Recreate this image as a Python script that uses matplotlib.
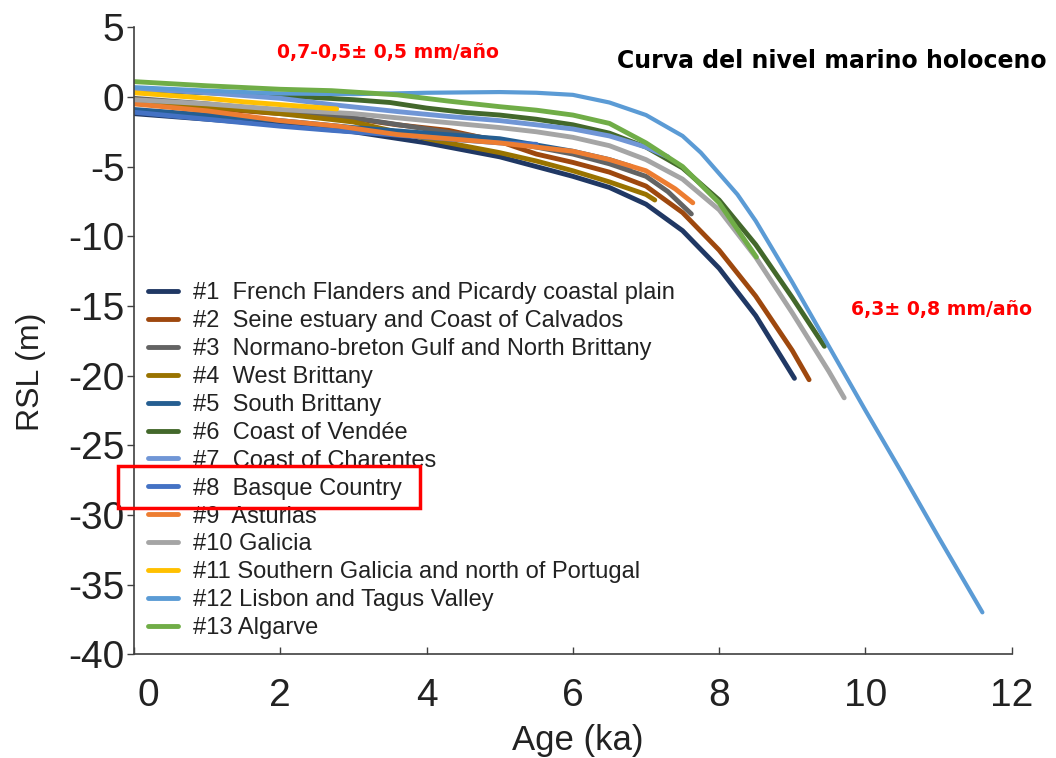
import matplotlib
matplotlib.use("Agg")
import matplotlib.pyplot as plt
from matplotlib.patches import Rectangle
import matplotlib.transforms as mtransforms

plt.rcParams['font.family'] = ['Liberation Sans', 'DejaVu Sans']
plt.rcParams['axes.unicode_minus'] = False

# ---- data (age in ka, RSL in m) ----
labels = [
    "#1  French Flanders and Picardy coastal plain",
    "#2  Seine estuary and Coast of Calvados",
    "#3  Normano-breton Gulf and North Brittany",
    "#4  West Brittany",
    "#5  South Brittany",
    "#6  Coast of Vendée",
    "#7  Coast of Charentes",
    "#8  Basque Country",
    "#9  Asturias",
    "#10 Galicia",
    "#11 Southern Galicia and north of Portugal",
    "#12 Lisbon and Tagus Valley",
    "#13 Algarve",
]
colors = ["#203864", "#9e480e", "#636363", "#997300", "#255e91", "#43682b",
          "#7096d6", "#4472c4", "#ed7d31", "#a5a5a5", "#ffc000", "#5b9bd5", "#70ad47"]

age1 = [0, 1, 2, 3, 4, 4.5, 5, 5.5, 6, 6.5, 7, 7.5, 8, 8.5, 9.03]
rsl1 = [-1.2, -1.6, -2.0, -2.5, -3.3, -3.8, -4.3, -5.0, -5.7, -6.5, -7.7, -9.6, -12.3, -15.7, -20.2]

age2 = [0, 1, 2, 2.8, 3.6, 4.3, 5, 5.5, 6, 6.5, 7, 7.5, 8, 8.5, 9, 9.23]
rsl2 = [-0.3, -0.8, -1.2, -1.4, -2.0, -2.4, -3.2, -4.1, -4.7, -5.4, -6.4, -8.3, -11.0, -14.3, -18.2, -20.3]

age3 = [0, 1, 2, 3, 4, 5, 5.5, 6, 6.5, 7, 7.3, 7.62]
rsl3 = [-0.1, -0.5, -1.0, -1.5, -2.3, -3.1, -3.6, -4.1, -4.8, -5.7, -6.8, -8.4]

age4 = [0, 1, 2, 3, 3.5, 4, 4.5, 5, 5.5, 6, 6.5, 7, 7.12]
rsl4 = [-0.2, -0.7, -1.2, -1.8, -2.4, -3.0, -3.5, -4.0, -4.6, -5.3, -6.1, -7.0, -7.4]

age5 = [0, 1, 2, 3, 4, 5, 5.5, 6, 6.5, 6.8]
rsl5 = [-0.9, -1.3, -1.7, -2.2, -2.6, -3.0, -3.45, -3.9, -4.5, -5.0]

age6 = [0, 1, 2, 3, 3.5, 4, 4.5, 5, 5.5, 6, 6.5, 7, 7.5, 8, 8.5, 9, 9.44]
rsl6 = [0.5, 0.3, 0.1, -0.2, -0.4, -0.8, -1.1, -1.3, -1.6, -2.0, -2.6, -3.6, -5.1, -7.4, -10.6, -14.4, -17.9]

age7 = [0, 1, 2, 2.7, 3.6, 4.3, 5, 5.5, 6, 6.5, 7, 7.3]
rsl7 = [0.6, 0.3, -0.1, -0.55, -1.05, -1.4, -1.7, -2.0, -2.3, -2.8, -3.6, -4.3]

age8 = [0, 1, 2, 2.7, 3.5, 4, 4.5, 5, 5.5]
rsl8 = [-1.1, -1.6, -2.1, -2.4, -2.7, -2.9, -3.1, -3.3, -3.4]

age9 = [0, 1, 2, 2.8, 3.6, 4.3, 5, 5.5, 6, 6.5, 7, 7.4, 7.64]
rsl9 = [-0.5, -1.0, -1.7, -2.1, -2.7, -3.0, -3.3, -3.6, -3.9, -4.5, -5.3, -6.6, -7.6]

age10 = [0, 1, 2, 3, 4, 5, 5.5, 6, 6.5, 7, 7.5, 8, 8.5, 9, 9.5, 9.71]
rsl10 = [-0.2, -0.5, -0.9, -1.2, -1.7, -2.2, -2.5, -2.9, -3.5, -4.5, -5.9, -8.1, -11.5, -15.5, -19.7, -21.6]

age11 = [0, 0.5, 1, 1.5, 2, 2.5, 2.77]
rsl11 = [0.3, 0.1, -0.1, -0.35, -0.55, -0.75, -0.86]

age12 = [0, 1, 2, 3, 4, 5, 5.5, 6, 6.5, 7, 7.5, 7.75, 8, 8.25, 8.5, 9, 9.5, 10, 10.5, 11, 11.6]
rsl12 = [0.7, 0.45, 0.25, 0.2, 0.3, 0.35, 0.3, 0.15, -0.4, -1.3, -2.8, -4.0, -5.5, -7.0, -8.9, -13.3, -17.9, -22.5, -27.0, -31.6, -37.0]

age13 = [0, 1, 2, 2.7, 3.6, 4.3, 5, 5.5, 6, 6.5, 7, 7.5, 8, 8.51]
rsl13 = [1.1, 0.8, 0.55, 0.45, 0.15, -0.3, -0.7, -0.95, -1.3, -1.9, -3.3, -5.0, -7.6, -11.5]

ages = [age1, age2, age3, age4, age5, age6, age7, age8, age9, age10, age11, age12, age13]
rsls = [rsl1, rsl2, rsl3, rsl4, rsl5, rsl6, rsl7, rsl8, rsl9, rsl10, rsl11, rsl12, rsl13]

xticks = [0, 2, 4, 6, 8, 10, 12]
yticks = [5, 0, -5, -10, -15, -20, -25, -30, -35, -40]

# ---- figure ----
fig = plt.figure(figsize=(10.56, 7.58), dpi=100)
ax = fig.add_axes([0.127, 0.137, 0.831, 0.827])

for a, r, c, lab in zip(ages, rsls, colors, labels):
    lw = 3.0 if lab.startswith("#12") else 3.5
    ax.plot(a, r, color=c, lw=lw, label=lab, solid_capstyle='round', solid_joinstyle='round')

ax.set_xlim(0, 12)
ax.set_ylim(-40, 5)
ax.set_xticks(xticks)
ax.set_yticks(yticks)
ax.spines['top'].set_visible(False)
ax.spines['right'].set_visible(False)
for s in ['left', 'bottom']:
    ax.spines[s].set_color('#404040')
    ax.spines[s].set_linewidth(1.2)
ax.tick_params(axis='y', direction='out', length=5, width=1.0, labelsize=28, pad=2, colors='#404040', labelcolor='#222222')
ax.tick_params(axis='x', direction='in', length=5, width=1.0, labelsize=28, pad=17, colors='#404040', labelcolor='#222222')
# shift first x label slightly right like the reference
lbl0 = ax.get_xticklabels()[0]
lbl0.set_transform(lbl0.get_transform() + mtransforms.ScaledTranslation(0.14, 0, fig.dpi_scale_trans))

ax.set_xlabel("Age (ka)", fontsize=25, color='#222222')
ax.set_ylabel("RSL (m)", fontsize=23, color='#222222')
ax.xaxis.set_label_coords(0.505, -0.112)
ax.yaxis.set_label_coords(-0.10, 0.45)

leg = ax.legend(loc='upper left', bbox_to_anchor=(0.008, 0.6045), frameon=False,
                fontsize=17, handlelength=1.27, handletextpad=0.64, labelspacing=0.25,
                borderaxespad=0.0, borderpad=0.3)
for t in leg.get_texts():
    t.set_color('#222222')
for h in leg.get_lines():
    h.set_linewidth(3.5)

ax.text(0.289, 0.960, "0,7-0,5± 0,5 mm/año", transform=ax.transAxes, color='#ff0000',
        fontsize=13.6, fontweight='bold', family='DejaVu Sans', ha='center', va='center')
ax.text(0.795, 0.947, "Curva del nivel marino holoceno", transform=ax.transAxes, color='black',
        fontsize=17, fontweight='bold', family='DejaVu Sans', ha='center', va='center', clip_on=False)
ax.text(0.920, 0.550, "6,3± 0,8 mm/año", transform=ax.transAxes, color='#ff0000',
        fontsize=13.6, fontweight='bold', family='DejaVu Sans', ha='center', va='center', clip_on=False)

# red box around the "#8" legend entry
fig.canvas.draw()
renderer = fig.canvas.get_renderer()
tb = leg.get_texts()[7].get_window_extent(renderer)
cy = (tb.y0 + tb.y1) / 2 + 2
x0 = tb.x0 - 75
x1 = tb.x1 + 18
rect = Rectangle((x0, cy - 21), x1 - x0, 42, transform=None, fill=False,
                 edgecolor='#ff0000', linewidth=2.5, zorder=10)
fig.patches.append(rect)

fig.savefig("out.png", dpi=100)
